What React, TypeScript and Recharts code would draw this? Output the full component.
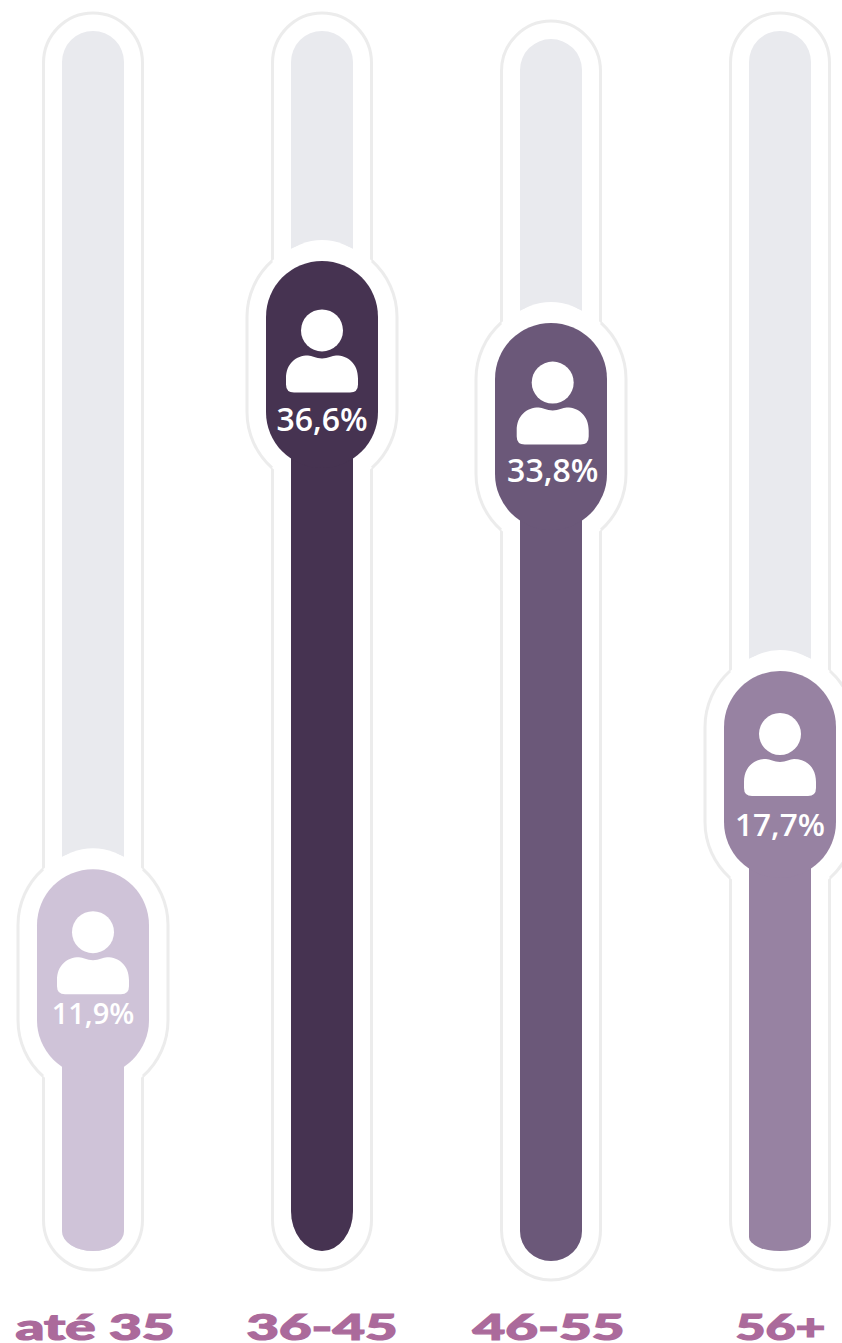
import { Bar, BarChart, XAxis, YAxis } from "recharts";

const ageGroups = ["até 35", "36-45", "46-55", "56+"];
const shares = [11.9, 36.6, 33.8, 17.7];
// how far up the track each fill reaches in the picture (% of track), not to scale with the shares
const fillLevels = [31.3, 81.15, 76.07, 47.54];
const trackBases = [0, 0, -0.82, 0];
const trackTops = [100, 100, 99.34, 100];

const data = ageGroups.map((group, i) => ({
  group,
  share: shares[i],
  track: [trackBases[i], trackTops[i]],
  fill: [trackBases[i], fillLevels[i]],
}));

const COLORS = ["#cfc3d8", "#463351", "#6b5879", "#9782a2"];
const BASE_CURVES = [20, 40, 30, 14];
const ICON_SHIFT = [0, 6.5, -3.4, 0];
const CONTENT_SHIFT_X = [0, 0, 1.7, 0];
const TEXT_BASELINE = [155, 170.5, 159, 164.5];
const TEXT_SIZE = [29, 32, 32, 31.5];
const TICK_WIDTH = [159, 151, 152, 90];
const TICK_SHIFT = [2.5, 0.5, -2, 1];

const TRACK_COLOR = "#e9eaee";
const OUTLINE_COLOR = "#ececec";
const TICK_COLOR = "#ab6a9b";

function columnPath(x: number, y: number, w: number, h: number, topR: number, curve: number) {
  const b = y + h;
  return `M${x} ${y + topR}A${w / 2} ${topR} 0 0 1 ${x + w} ${y + topR}V${b - curve}A${w / 2} ${curve} 0 0 1 ${x} ${b - curve}Z`;
}

function TrackShape(props: any) {
  const { x, y, width, height, index } = props;
  return (
    <g>
      <path
        d={columnPath(x - 18.5, y - 18, width + 37, height + 37, 50, 50)}
        fill="#fff"
        stroke={OUTLINE_COLOR}
        strokeWidth={3}
      />
      <path d={columnPath(x, y, width, height, 31, BASE_CURVES[index])} fill={TRACK_COLOR} />
    </g>
  );
}

function FillShape(props: any) {
  const { x, y, width, height, index, payload } = props;
  const c = x + width / 2;
  const cc = c + CONTENT_SHIFT_X[index];
  const upper = y + 56;
  const lower = y + 151;
  const iconTop = y + ICON_SHIFT[index];
  const body = iconTop + 88;
  const foot = body + 37;
  const side = (d: number) =>
    `M${c + d * 50} ${upper - 56}A75 75 0 0 ${d < 0 ? 0 : 1} ${c + d * 75} ${upper}V${lower}A75 75 0 0 ${d < 0 ? 0 : 1} ${c + d * 50} ${lower + 56}`;
  return (
    <g>
      <rect x={c - 75} y={upper - 75} width={150} height={lower - upper + 150} rx={75} fill="#fff" />
      <circle cx={c} cy={y + 34} r={55} fill="#fff" />
      <path d={side(-1)} fill="none" stroke={OUTLINE_COLOR} strokeWidth={3} />
      <path d={side(1)} fill="none" stroke={OUTLINE_COLOR} strokeWidth={3} />
      <path d={columnPath(x, upper, width, y + height - upper, 0, BASE_CURVES[index])} fill={COLORS[index]} />
      <rect x={c - 56} y={y} width={112} height={207} rx={56} fill={COLORS[index]} />
      <circle cx={cc} cy={iconTop + 63} r={21} fill="#fff" />
      <path
        d={`M${cc - 28} ${foot}Q${cc - 36} ${foot} ${cc - 36} ${foot - 8}V${body + 23}C${cc - 36} ${body + 8} ${cc - 26} ${body} ${cc - 14} ${body}C${cc - 10} ${body} ${cc - 6} ${body + 3} ${cc} ${body + 3}C${cc + 6} ${body + 3} ${cc + 10} ${body} ${cc + 14} ${body}C${cc + 26} ${body} ${cc + 36} ${body + 8} ${cc + 36} ${body + 23}V${foot - 8}Q${cc + 36} ${foot} ${cc + 28} ${foot}Z`}
        fill="#fff"
      />
      <text
        x={cc}
        y={y + TEXT_BASELINE[index]}
        textAnchor="middle"
        fill="#fff"
        fontFamily="'Open Sans', sans-serif"
        fontWeight={600}
        fontSize={TEXT_SIZE[index]}
      >
        {payload.share.toFixed(1).replace(".", ",") + "%"}
      </text>
    </g>
  );
}

function AgeTick(props: any) {
  const { x, y, payload, index } = props;
  return (
    <text
      x={x + TICK_SHIFT[index]}
      y={y + 55}
      textAnchor="middle"
      fill={TICK_COLOR}
      stroke={TICK_COLOR}
      strokeWidth={1.2}
      fontFamily="Lato, sans-serif"
      fontWeight={900}
      fontSize={36}
      textLength={TICK_WIDTH[index]}
      lengthAdjust="spacingAndGlyphs"
    >
      {payload.value}
    </text>
  );
}

export default function App() {
  return (
    <div style={{ position: "absolute", left: 0, top: 0, width: 842, height: 1343, overflow: "hidden", background: "#fff" }}>
      <div style={{ position: "absolute", left: -22.5, top: 0 }}>
        <BarChart
          width={916}
          height={1343}
          data={data}
          margin={{ top: 0, right: 0, bottom: 0, left: 0 }}
          barSize={62}
          barGap={-62}
        >
          <XAxis
            dataKey="group"
            height={64}
            axisLine={false}
            tickLine={false}
            tickMargin={0}
            interval={0}
            tick={<AgeTick />}
          />
          <YAxis hide domain={[-2.295, 102.54]} />
          <Bar dataKey="track" shape={<TrackShape />} isAnimationActive={false} />
          <Bar dataKey="fill" shape={<FillShape />} isAnimationActive={false} />
        </BarChart>
      </div>
    </div>
  );
}
